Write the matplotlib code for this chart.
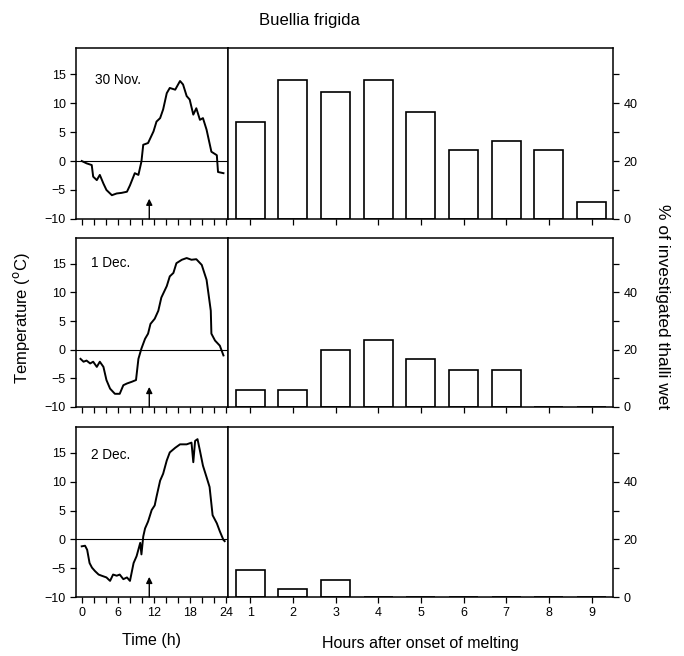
import numpy as np
import matplotlib
matplotlib.use('Agg')
import matplotlib.pyplot as plt

plt.rcParams['font.family'] = ['Liberation Sans', 'DejaVu Sans']

# Temperature traces (hour, degC)
hours_30nov = [0.0, 0.8, 1.66, 1.9, 2.5, 3.0, 3.6, 4.1, 5.0, 5.8, 6.6, 7.5, 8.0, 8.8,
               9.4, 9.9, 10.2, 11.0, 11.9, 12.4, 13.0, 13.5, 14.1, 14.6, 15.5, 16.3,
               16.8, 17.4, 17.9, 18.5, 19.0, 19.6, 20.1, 20.7, 21.5, 22.4, 22.6, 23.5]
temp_30nov = [0.0, -0.4, -0.7, -2.7, -3.3, -2.4, -3.9, -5.0, -5.9, -5.6, -5.5, -5.3, -4.2, -2.1,
              -2.4, -0.1, 2.8, 3.1, 5.1, 6.8, 7.4, 8.9, 11.7, 12.6, 12.3, 13.8,
              13.2, 11.2, 10.6, 8.0, 9.1, 7.1, 7.4, 5.4, 1.6, 1.0, -1.9, -2.1]

hours_1dec = [-0.2, 0.3, 0.8, 1.4, 1.9, 2.5, 3.0, 3.6, 4.1, 4.7, 5.5, 6.3, 6.9, 7.5, 8.3,
              9.0, 9.4, 9.9, 10.5, 11.0, 11.4, 12.1, 12.7, 13.2, 14.1, 14.6, 15.2, 15.7,
              16.6, 17.4, 18.2, 19.0, 19.9, 20.7, 21.0, 21.4, 21.5, 22.1, 22.9, 23.5]
temp_1dec = [-1.6, -2.1, -1.9, -2.4, -2.1, -3.0, -2.1, -3.0, -5.3, -6.8, -7.7, -7.7, -6.2, -5.9, -5.6,
             -5.3, -1.6, 0.2, 1.9, 2.8, 4.5, 5.4, 6.8, 9.1, 11.1, 12.8, 13.4, 15.1,
             15.7, 16.0, 15.7, 15.8, 14.8, 12.2, 9.9, 6.8, 2.8, 1.6, 0.7, -1.0]

hours_2dec = [0.0, 0.55, 0.9, 1.3, 1.7, 2.2, 2.8, 3.3, 4.1, 4.7, 5.2, 5.8, 6.3, 6.9, 7.5,
              8.0, 8.6, 9.1, 9.7, 9.9, 10.2, 10.5, 11.0, 11.6, 12.1, 12.4, 13.0, 13.5,
              14.1, 14.6, 15.5, 16.3, 17.4, 18.2, 18.5, 18.8, 19.2, 19.6, 20.1, 20.7,
              21.2, 21.7, 22.4, 22.9, 23.5, 23.7]
temp_2dec = [-1.2, -1.1, -1.8, -4.1, -4.9, -5.5, -6.1, -6.3, -6.6, -7.2, -6.1, -6.3, -6.1, -6.9, -6.6,
             -7.2, -4.1, -2.9, -0.6, -2.6, 0.5, 1.9, 3.1, 5.1, 5.9, 7.4, 10.2, 11.4,
             13.7, 15.1, 15.9, 16.5, 16.5, 16.8, 13.4, 17.1, 17.4, 15.4, 12.8, 10.8,
             9.1, 4.2, 2.8, 1.4, -0.1, -0.3]

# Bars: % of investigated thalli wet, per hour after onset of melting
melt_hours = [1, 2, 3, 4, 5, 6, 7, 8, 9]
wet_30nov = [33.6, 47.9, 43.8, 47.8, 36.8, 23.8, 26.9, 23.8, 6.0]
wet_1dec = [5.8, 5.8, 19.8, 23.5, 16.9, 12.8, 12.8, 0, 0]
wet_2dec = [9.5, 2.9, 5.8, 0, 0, 0, 0, 0, 0]

days = ['30 Nov.', '1 Dec.', '2 Dec.']
traces = [(hours_30nov, temp_30nov), (hours_1dec, temp_1dec), (hours_2dec, temp_2dec)]
wets = [wet_30nov, wet_1dec, wet_2dec]
label_pos = [(2.2, 14.0), (1.6, 15.1), (1.5, 14.6)]

fig = plt.figure(figsize=(6.84, 6.56), dpi=100)

rows = [(0.6662, 0.2607), (0.3796, 0.2576), (0.0899, 0.2591)]
for i, (bottom, height) in enumerate(rows):
    axl = fig.add_axes([0.1111, bottom, 0.2222, height])
    axr = fig.add_axes([0.3333, bottom, 0.5629, height])

    # temperature panel
    h, t = traces[i]
    axl.plot(h, t, color='black', lw=1.4)
    axl.axhline(0, color='black', lw=0.8)
    axl.annotate('', xy=(11.2, -6.5), xytext=(11.2, -10),
                 arrowprops=dict(arrowstyle='-|>', color='black', lw=1.0,
                                 mutation_scale=9, shrinkA=0, shrinkB=0))
    axl.text(label_pos[i][0], label_pos[i][1], days[i], fontsize=9.8, va='center')
    axl.set_xlim(-0.95, 24.25)
    axl.set_ylim(-10, 19.5)
    axl.set_yticks([-10, -5, 0, 5, 10, 15])
    axl.set_xticks(range(0, 25, 2))
    if i == 2:
        axl.set_xticklabels([str(v) if v % 6 == 0 else '' for v in range(0, 25, 2)])
        axl.set_xlabel('Time (h)', fontsize=11.5, labelpad=10)
    else:
        axl.set_xticklabels([])
    axl.tick_params(direction='out', length=4, width=0.9, labelsize=9)

    # bar panel
    axr.bar(melt_hours, wets[i], width=0.68, facecolor='white',
            edgecolor='black', linewidth=1.2)
    axr.set_xlim(0.48, 9.5)
    axr.set_ylim(0, 59)
    axr.set_xticks(melt_hours)
    axr.set_yticks([0, 20, 40])
    axr.set_yticks([10, 30, 50], minor=True)
    axr.yaxis.tick_right()
    axr.tick_params(axis='y', which='both', direction='out', length=4, width=0.9,
                    labelsize=9, left=False)
    axr.tick_params(axis='x', direction='out', length=4, width=0.9, labelsize=9)
    if i == 2:
        axr.set_xlabel('Hours after onset of melting', fontsize=11.5, labelpad=12)
    else:
        axr.set_xticklabels([])

    for ax in (axl, axr):
        for sp in ax.spines.values():
            sp.set_linewidth(1.1)

fig.text(0.032, 0.515, 'Temperature ($^{\\rm o}$C)', rotation=90, fontsize=12,
         va='center', ha='center')
fig.text(0.968, 0.532, '% of investigated thalli wet', rotation=270, fontsize=12.5,
         va='center', ha='center')
fig.text(0.453, 0.968, 'Buellia frigida', fontsize=12, ha='center', va='center')

plt.savefig('out.png', dpi=100)
